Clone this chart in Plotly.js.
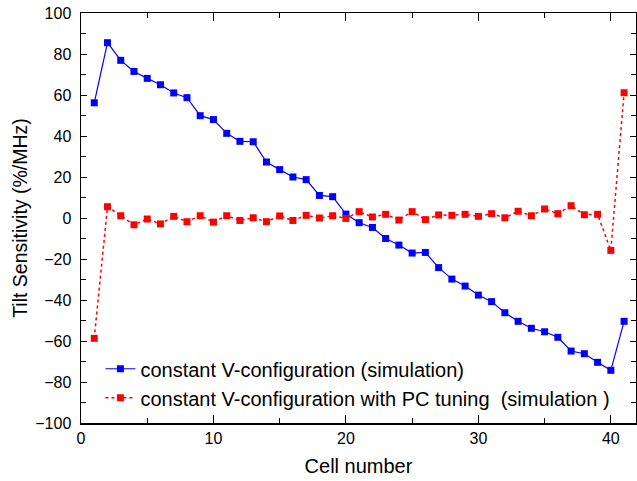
<!DOCTYPE html>
<html>
<head>
<meta charset="utf-8">
<script src="https://cdn.plot.ly/plotly-3.0.1.min.js"></script>
<style>html,body{margin:0;padding:0;background:#fff}#chart{width:637px;height:481px}</style>
</head>
<body>
<div id="chart"></div>
<script>
const cells = [1,2,3,4,5,6,7,8,9,10,11,12,13,14,15,16,17,18,19,20,21,22,23,24,25,26,27,28,29,30,31,32,33,34,35,36,37,38,39,40,41];
const constantV = [56.2,85.5,76.9,71.5,68.1,65.0,61.0,58.7,49.9,48.0,41.3,37.4,37.2,27.3,23.6,20.0,18.7,11.0,10.4,1.9,-2.3,-4.6,-10.0,-13.2,-17.1,-16.8,-24.2,-29.8,-33.2,-37.6,-40.8,-46.2,-50.4,-53.8,-55.5,-58.2,-64.9,-66.2,-70.4,-74.3,-50.4];
const constantVPC = [-58.7,5.5,1.1,-3.3,-0.5,-2.9,0.8,-1.8,1.1,-2.0,1.1,-1.2,0.1,-1.8,1.0,-1.2,1.3,0.0,1.1,-0.2,3.1,0.5,1.8,-1.0,3.1,-0.8,1.5,1.3,1.8,0.8,2.1,0.1,3.3,1.1,4.4,2.1,6.0,1.6,1.8,-15.8,61.1];
const seriesNames = ["constant V-configuration (simulation)", "constant V-configuration with PC tuning  (simulation )"];
const xTickVals = [0,10,20,30,40];
const yTickVals = [-100,-80,-60,-40,-20,0,20,40,60,80,100];

const FONT = "Arial, 'Liberation Sans', sans-serif";

const traces = [
  {x: cells, y: constantV, name: seriesNames[0], type: 'scatter', mode: 'lines+markers',
   line: {color: '#0000ff', width: 1.2}, marker: {symbol: 'square', size: 7, color: '#0000ff'}},
  {x: cells, y: constantVPC, name: seriesNames[1], type: 'scatter', mode: 'lines+markers',
   line: {color: '#ff0000', width: 1.5, dash: 'dot'}, marker: {symbol: 'square', size: 7, color: '#ff0000'}}
];

const layout = {
  width: 637, height: 481,
  margin: {l: 81, r: 1, t: 13, b: 58},
  paper_bgcolor: '#fff', plot_bgcolor: '#fff',
  font: {family: FONT, size: 16, color: '#000'},
  showlegend: true,
  legend: {x: 0.035, y: 0.014, xanchor: 'left', yanchor: 'bottom', bgcolor: 'rgba(0,0,0,0)',
           font: {family: FONT, size: 20, color: '#000'}, tracegroupgap: 0},
  xaxis: {range: [0, 41.9], tickvals: xTickVals, ticks: 'inside', ticklen: 8, tickwidth: 1, tickcolor: '#000',
          showline: true, linecolor: '#000', linewidth: 1.5, mirror: 'ticks', showgrid: false, zeroline: false,
          minor: {dtick: 5, tick0: 0, ticks: 'inside', ticklen: 5, tickcolor: '#000'},
          tickfont: {family: FONT, size: 16},
          title: {text: 'Cell number', font: {family: FONT, size: 20}, standoff: 13}},
  yaxis: {range: [-100, 100], tickvals: yTickVals, ticks: 'inside', ticklen: 6, tickwidth: 1, tickcolor: '#000',
          showline: true, linecolor: '#000', linewidth: 1.5, mirror: 'ticks', showgrid: false, zeroline: false,
          minor: {dtick: 10, tick0: 0, ticks: 'inside', ticklen: 5, tickcolor: '#000'},
          tickfont: {family: FONT, size: 16}, ticklabelstandoff: 5,
          title: {text: 'Tilt Sensitivity (%/MHz)', font: {family: FONT, size: 19.5}, standoff: 2}}
};

Plotly.newPlot('chart', traces, layout, {displayModeBar: false, staticPlot: true});
</script>
</body>
</html>
